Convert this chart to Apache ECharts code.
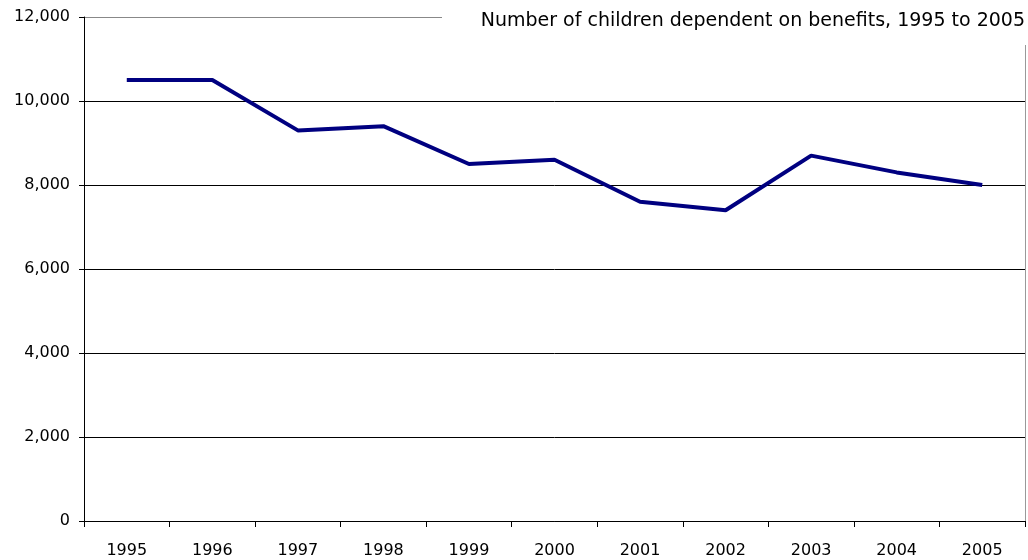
<!DOCTYPE html>
<html><head><meta charset="utf-8">
<script src="https://cdn.jsdelivr.net/npm/echarts@6/dist/echarts.min.js"></script>
<style>html,body{margin:0;padding:0;background:#fff}#c{width:1028px;height:560px}</style>
</head><body><div id="c"></div>
<script>
const categories = ['1995','1996','1997','1998','1999','2000','2001','2002','2003','2004','2005'];
const children = [10500,10500,9300,9400,8500,8600,7600,7400,8700,8300,8000];
const titleText = 'Number of children dependent on benefits, 1995 to 2005';
const FONT = 'DejaVu Sans';

const chart = echarts.init(document.getElementById('c'), null, {renderer:'canvas'});
chart.setOption({
  animation:false,
  backgroundColor:'#fff',
  grid:{left:84, right:3, top:17, bottom:39, containLabel:false},
  graphic:[
    {type:'rect', right:0, top:0, z:100, shape:{width:586, height:45}, style:{fill:'#fff'}},
    {type:'text', right:3, top:12, z:101, style:{text:titleText, fill:'#000', font:'19px "' + FONT + '"'}}
  ],
  xAxis:{
    type:'category', data:categories, boundaryGap:true,
    axisLine:{lineStyle:{color:'#000', width:1}},
    axisTick:{show:true, length:6, lineStyle:{color:'#000'}},
    axisLabel:{color:'#000', fontFamily:FONT, fontSize:16, margin:22},
    splitLine:{show:false}
  },
  yAxis:[{
    type:'value', min:0, max:12000, interval:2000,
    axisLine:{show:true, lineStyle:{color:'#000', width:1}},
    axisTick:{show:true, length:5, lineStyle:{color:'#000'}},
    axisLabel:{color:'#000', fontFamily:FONT, fontSize:16, margin:14,
      formatter:v=>v.toLocaleString('en-US')},
    splitLine:{show:true, lineStyle:{color:['#000','#000','#000','#000','#000','#000','#888'], width:1}}
  },{
    type:'value', min:0, max:12000, interval:2000, position:'right',
    axisLine:{show:true, lineStyle:{color:'#999', width:1}},
    axisTick:{show:false}, axisLabel:{show:false}, splitLine:{show:false}
  }],
  series:[{
    type:'line', data:children, symbol:'none',
    lineStyle:{color:'#000080', width:4},
    itemStyle:{color:'#000080'}
  }]
});
</script></body></html>
